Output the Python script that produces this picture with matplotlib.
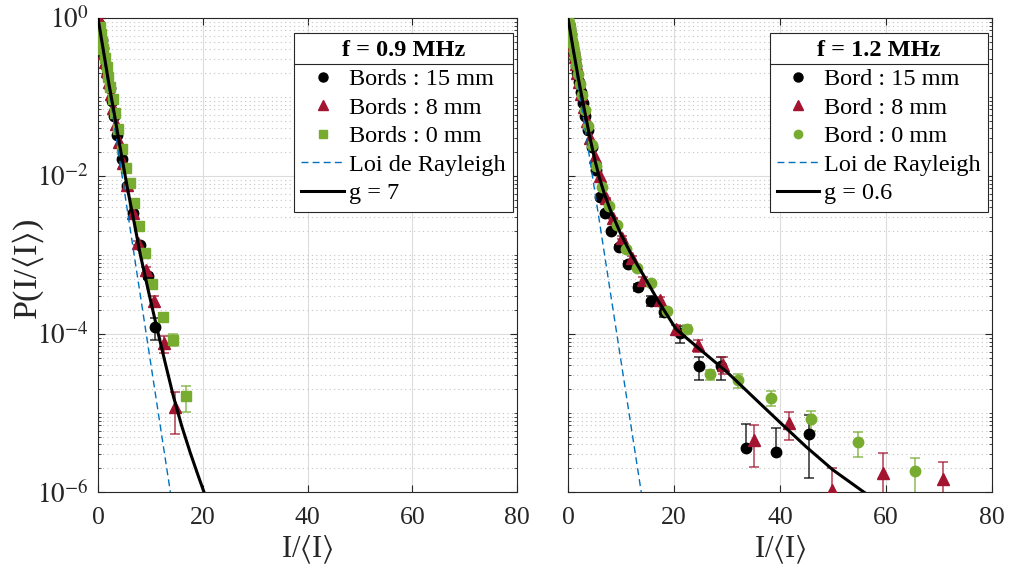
import numpy as np
import matplotlib
matplotlib.use('Agg')
import matplotlib.pyplot as plt
from matplotlib.ticker import FixedLocator, LogLocator, NullFormatter, FixedFormatter
from matplotlib.lines import Line2D

plt.rcParams['font.family'] = ['Liberation Serif', 'DejaVu Serif']
plt.rcParams['mathtext.fontset'] = 'stix'

# ---------------- data: left panel (f = 0.9 MHz) ----------------
L_black_x = [0.2, 0.45, 0.7, 0.95, 1.2, 1.5, 1.8, 2.2, 2.6, 3.1, 3.7, 4.5, 5.5, 6.7, 8.0, 9.5, 10.9]
L_black_p = [0.83, 0.66, 0.525, 0.417, 0.33, 0.25, 0.19, 0.13, 0.09, 0.057, 0.033, 0.0165,
             7.4e-3, 3.4e-3, 1.35e-3, 5.4e-4, 1.23e-4]
L_black_e = [0, 0, 0, 0, 0, 0, 0, 0, 0, 0, 0, 0, 2e-4, 1e-4, 6e-5, 5e-5, 3.8e-5]

L_red_x = [0.1, 0.35, 0.6, 0.85, 1.1, 1.4, 1.7, 2.05, 2.45, 2.9, 3.45, 4.1, 4.8, 5.6, 6.7, 7.7,
           9.2, 10.7, 12.6, 14.7]
L_red_p = [0.96, 0.73, 0.58, 0.46, 0.365, 0.28, 0.215, 0.155, 0.108, 0.073, 0.046, 0.027, 0.0145,
           7.8e-3, 3.4e-3, 1.41e-3, 6.5e-4, 2.6e-4, 7.6e-5, 1.2e-5]
L_red_e = [0, 0, 0, 0, 0, 0, 0, 0, 0, 0, 0, 0, 0, 2e-4, 1e-4, 8e-5, 5e-5, 4e-5, 1.8e-5, 6.5e-6]

L_green_x = [0.3, 0.55, 0.8, 1.05, 1.35, 1.65, 2.0, 2.35, 2.8, 3.3, 3.9, 4.6, 5.35, 6.1, 6.9, 7.9,
             9.0, 10.4, 12.5, 14.4, 16.8]
L_green_p = [0.78, 0.62, 0.5, 0.4, 0.31, 0.24, 0.18, 0.135, 0.094, 0.062, 0.039, 0.022, 0.0125,
             8.1e-3, 4.5e-3, 2.3e-3, 1.07e-3, 4.3e-4, 1.66e-4, 8.5e-5, 1.62e-5]
L_green_e = [0, 0, 0, 0, 0, 0, 0, 0, 0, 0, 0, 0, 0, 0, 1e-4, 6e-5, 4e-5, 3e-5, 1.5e-5, 1.4e-5, 6e-6]

L_fit_x = [0, 1, 2, 3.05, 4.2, 5.6, 7, 8, 9.6, 11.2, 12.8, 14.4, 16, 17.6, 19, 20.4, 21.0]
L_fit_p = [1, 0.398, 0.158, 0.0646, 0.0234, 7.1e-3, 2.4e-3, 1.07e-3, 3.55e-4, 1.23e-4, 4.4e-5,
           1.62e-5, 6.8e-6, 3.16e-6, 1.7e-6, 9.3e-7, 7.5e-7]

# ---------------- data: right panel (f = 1.2 MHz) ----------------
R_black_x = [0.2, 0.35, 0.5, 0.65, 0.8, 0.95, 1.1, 1.3, 1.5, 1.75, 2.05, 2.4, 2.8, 3.25, 3.8, 4.45,
             5.2, 6.05, 7.0, 8.2, 9.7, 11.3, 13.3, 15.6, 18.2, 21.1, 24.7, 28.8, 33.5, 39.2, 45.5]
R_black_p = [0.85, 0.73, 0.63, 0.55, 0.48, 0.42, 0.36, 0.30, 0.25, 0.2, 0.155, 0.115, 0.085, 0.058,
             0.038, 0.023, 0.012, 5.5e-3, 3.4e-3, 2.0e-3, 1.26e-3, 7.8e-4, 3.9e-4, 2.63e-4, 1.9e-4,
             1.02e-4, 3.9e-5, 3.9e-5, 3.6e-6, 3.2e-6, 5.4e-6]
R_black_e = [0, 0, 0, 0, 0, 0, 0, 0, 0, 0, 0, 0, 0, 0, 0, 0, 0, 0,
             1e-4, 8e-5, 6e-5, 5e-5, 4e-5, 4e-5, 2.5e-5, 2.4e-5, 1.25e-5, 1.25e-5, 3.7e-6, 3.3e-6, 3.9e-6]

R_red_x = [0.1, 0.25, 0.4, 0.52, 0.62, 0.74, 0.88, 1.05, 1.25, 1.49, 1.77, 2.1, 2.5, 3.0, 3.55, 4.2,
           5.0, 6.0, 7.1, 8.5, 10.1, 12.0, 14.2, 17.4, 20.4, 24.6, 29.3, 35.0, 41.7, 49.8, 59.4, 70.8]
R_red_p = [0.96, 0.79, 0.69, 0.63, 0.575, 0.51, 0.457, 0.39, 0.324, 0.263, 0.204, 0.155, 0.11, 0.074,
           0.05, 0.03, 0.0174, 0.01, 5.2e-3, 2.9e-3, 1.66e-3, 9.1e-4, 4.8e-4, 2.7e-4, 1.15e-4, 7.2e-5,
           4.1e-5, 4.6e-6, 7.4e-6, 1.07e-6, 1.74e-6, 1.45e-6]
R_red_e = [0, 0, 0, 0, 0, 0, 0, 0, 0, 0, 0, 0, 0, 0, 0, 0, 0, 0,
           1e-4, 8e-5, 6e-5, 5e-5, 4e-5, 2.5e-5, 1.5e-5, 1.2e-5, 9.5e-6, 2.5e-6, 2.9e-6, 9.3e-7,
           1.36e-6, 9.5e-7]

R_green_x = [0.05, 0.2, 0.32, 0.44, 0.52, 0.63, 0.75, 0.9, 1.07, 1.28, 1.53, 1.83, 2.2, 2.6, 3.15,
             3.75, 4.5, 5.35, 6.4, 7.7, 9.2, 11.0, 13.1, 15.7, 18.6, 22.4, 26.8, 32.0, 38.3, 45.8,
             54.8, 65.5]
R_green_p = [0.98, 0.86, 0.76, 0.68, 0.63, 0.57, 0.51, 0.45, 0.38, 0.32, 0.255, 0.195, 0.145, 0.105,
             0.068, 0.043, 0.025, 0.0135, 7.2e-3, 4.2e-3, 2.4e-3, 1.2e-3, 6.9e-4, 4.4e-4, 1.95e-4,
             1.15e-4, 3.1e-5, 2.6e-5, 1.55e-5, 8.3e-6, 4.3e-6, 1.82e-6]
R_green_e = [0, 0, 0, 0, 0, 0, 0, 0, 0, 0, 0, 0, 0, 0, 0, 0, 0, 0,
             1e-4, 7e-5, 5e-5, 4e-5, 3e-5, 2.5e-5, 2e-5, 1.5e-5, 4.5e-6, 5e-6, 3.3e-6, 2.3e-6,
             1.5e-6, 9e-7]

R_fit_x = [0, 1, 2, 3, 4, 5, 6, 7, 8, 10, 12, 14.2, 17, 20.4, 25, 30, 35, 40, 45, 50, 55.8, 58]
R_fit_p = [1, 0.398, 0.166, 0.0741, 0.0339, 0.0166, 9.1e-3, 5.6e-3, 3.7e-3, 1.82e-3, 1.0e-3,
           5.6e-4, 2.63e-4, 1.15e-4, 6.3e-5, 3.3e-5, 1.58e-5, 7.6e-6, 3.7e-6, 1.9e-6, 1.0e-6, 8.0e-7]

# Rayleigh law (straight line on a log-lin plot)
ray_x = [0, 16]
ray_p = [1, 1.125e-7]

titles = ['f = 0.9 MHz', 'f = 1.2 MHz']
labels_left = ['Bords : 15 mm', 'Bords : 8 mm', 'Bords : 0 mm', 'Loi de Rayleigh', 'g = 7']
labels_right = ['Bord : 15 mm', 'Bord : 8 mm', 'Bord : 0 mm', 'Loi de Rayleigh', 'g = 0.6']
x_ticks = [0, 20, 40, 60, 80]
y_ticks = [1e-6, 1e-4, 1e-2, 1]
y_ticklabels = [r'$10^{-6}$', r'$10^{-4}$', r'$10^{-2}$', r'$10^{0}$']

C_BLACK = '#000000'
C_RED = '#A2142F'
C_GREEN = '#77AC30'
C_BLUE = '#0072BD'

fig = plt.figure(figsize=(10.13, 5.72), dpi=100)
ax1 = fig.add_axes([98 / 1013, 80 / 572, 419 / 1013, 474 / 572])
ax2 = fig.add_axes([568 / 1013, 80 / 572, 424 / 1013, 474 / 572])


def draw_errors(ax, x, p, e, color):
    x = np.asarray(x, float)
    p = np.asarray(p, float)
    e = np.asarray(e, float)
    m = e > 0
    lo = np.where(e[m] >= p[m], 0.0, e[m])
    ax.errorbar(x[m], p[m], yerr=[lo, e[m]], fmt='none', ecolor=color, alpha=0.75,
                elinewidth=1.2, capsize=3.5, capthick=1.2, zorder=2)


def panel(ax, series, fit_x, fit_p, title, labels, show_ylabels, anchor):
    for (x, p, e, color, marker, ms) in series:
        draw_errors(ax, x, p, e, color)
        ax.plot(x, p, ls='none', marker=marker, color=color, ms=ms, mec=color, zorder=3)
    ax.plot(ray_x, ray_p, color=C_BLUE, lw=1.0, dashes=(5, 3), zorder=4)
    ax.plot(fit_x, fit_p, color='k', lw=2.2, zorder=5)

    ax.set_yscale('log')
    ax.set_xlim(0, 80)
    ax.set_ylim(1e-6, 1)
    ax.xaxis.set_major_locator(FixedLocator(x_ticks))
    ax.yaxis.set_major_locator(FixedLocator(y_ticks))
    ax.yaxis.set_minor_locator(LogLocator(base=10, subs=np.arange(1, 10), numticks=30))
    ax.yaxis.set_minor_formatter(NullFormatter())
    if show_ylabels:
        ax.yaxis.set_major_formatter(FixedFormatter(y_ticklabels))
    else:
        ax.yaxis.set_major_formatter(NullFormatter())
    ax.tick_params(which='both', direction='in', top=True, right=True, labelsize=18.5,
                   colors='#262626', labelcolor='#262626')
    ax.tick_params(which='major', length=5, width=0.8)
    ax.tick_params(axis='y', which='major', pad=7, labelsize=19.5)
    ax.tick_params(axis='x', which='major', pad=11)
    ax.tick_params(which='minor', length=2.5, width=0.6)
    ax.tick_params(axis='x', which='minor', bottom=False, top=False)
    ax.grid(True, which='major', color='#dcdcdc', lw=0.8, ls='-')
    ax.grid(True, which='minor', axis='y', color='#c4c4c4', lw=0.8, ls=(0, (1, 3)))
    ax.set_axisbelow(True)
    for s in ax.spines.values():
        s.set_color('#262626')
        s.set_linewidth(0.8)
    ax.set_xlabel(r'I/$\langle$I$\rangle$', fontsize=22, color='#262626', labelpad=3)

    handles = [
        Line2D([], [], ls='none', marker='o', color=C_BLACK, ms=6.5),
        Line2D([], [], ls='none', marker='^', color=C_RED, ms=6.5),
        Line2D([], [], ls='none', marker=series[2][4], color=C_GREEN, ms=6),
        Line2D([], [], color=C_BLUE, lw=1.0, dashes=(5, 3)),
        Line2D([], [], color='k', lw=2.2),
    ]
    leg = ax.legend(handles, labels, title=title, loc='upper right',
                    bbox_to_anchor=anchor, bbox_transform=ax.transAxes,
                    borderaxespad=0.0, fontsize=17.5, title_fontsize=17.5,
                    handlelength=1.75, handletextpad=0.2, labelspacing=0.27,
                    borderpad=0.3, frameon=True, fancybox=False, framealpha=1,
                    edgecolor='#262626')
    leg.get_title().set_fontweight('bold')
    leg.get_frame().set_linewidth(0.8)
    return leg


leg1 = panel(ax1, [(L_black_x, L_black_p, L_black_e, C_BLACK, 'o', 7.5),
                   (L_red_x, L_red_p, L_red_e, C_RED, '^', 8),
                   (L_green_x, L_green_p, L_green_e, C_GREEN, 's', 6.5)],
             L_fit_x, L_fit_p, titles[0], labels_left, True, (0.990, 0.968))
leg2 = panel(ax2, [(R_black_x, R_black_p, R_black_e, C_BLACK, 'o', 7.5),
                   (R_red_x, R_red_p, R_red_e, C_RED, '^', 8),
                   (R_green_x, R_green_p, R_green_e, C_GREEN, 'o', 7.5)],
             R_fit_x, R_fit_p, titles[1], labels_right, False, (0.991, 0.968))

ax1.set_ylabel(r'P(I/$\langle$I$\rangle$)', fontsize=24.5, color='#262626')
ax1.yaxis.set_label_coords(-0.125, 0.47)

# separator line under legend titles (MATLAB style)
fig.canvas.draw()
renderer = fig.canvas.get_renderer()
inv = fig.transFigure.inverted()
for leg in (leg1, leg2):
    tb = leg.get_title().get_window_extent(renderer)
    fb = leg.get_frame().get_window_extent(renderer)
    y = tb.y0 - 3
    (x0, yy), (x1, _) = inv.transform([(fb.x0, y), (fb.x1, y)])
    fig.add_artist(Line2D([x0, x1], [yy, yy], transform=fig.transFigure,
                          color='#262626', lw=0.8, zorder=10))

fig.savefig('out.png', dpi=100)
